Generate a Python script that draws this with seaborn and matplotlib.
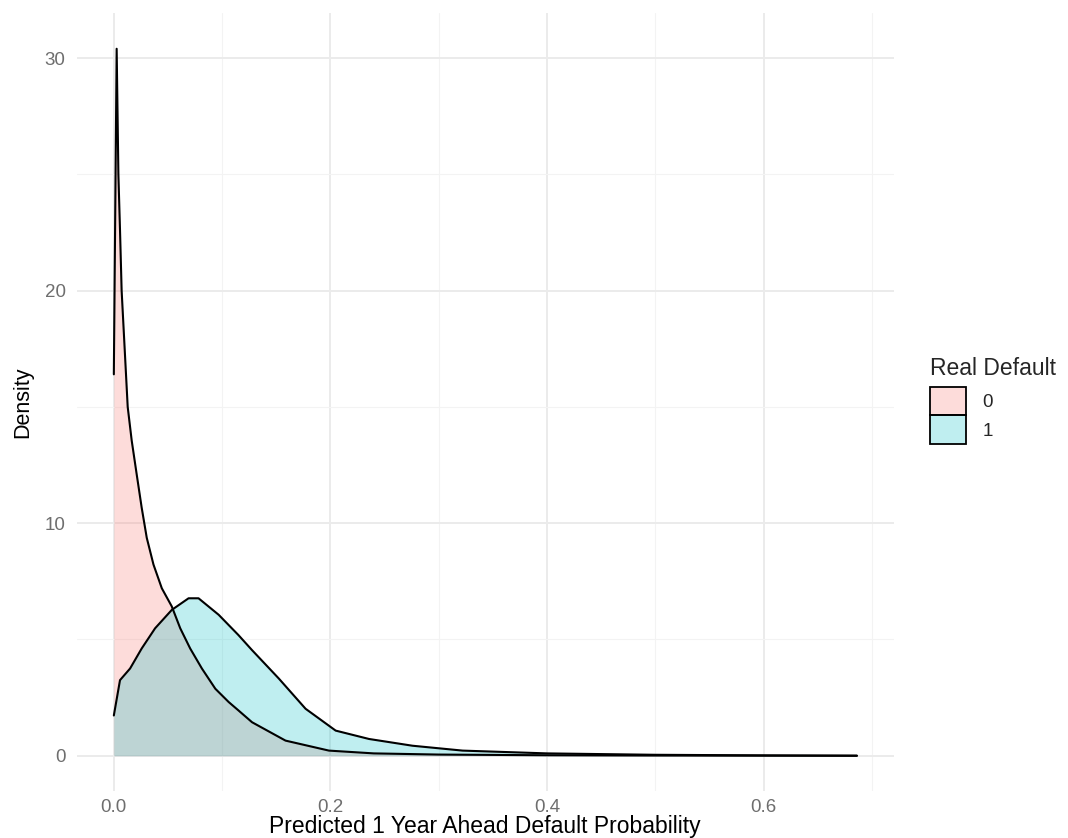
import matplotlib
matplotlib.use("Agg")
import matplotlib.pyplot as plt
from matplotlib.patches import Patch
from matplotlib.colors import to_rgba
import seaborn as sns
import pandas as pd

# ---- data ----
groups = ["0", "1"]
group_colors = ["#F8766D", "#00BFC4"]

x_default0 = [0.0, 0.0026, 0.0042, 0.0057, 0.0072, 0.0128, 0.0165, 0.0211, 0.0257,
              0.0304, 0.0366, 0.0443, 0.0535, 0.0613, 0.0705, 0.0813, 0.0937, 0.106,
              0.115, 0.1276, 0.1585, 0.1986, 0.24, 0.30, 0.40, 0.50, 0.60, 0.686]
y_default0 = [16.4, 30.4, 25.0, 22.6, 20.0, 15.0, 13.55, 12.1, 10.67,
              9.37, 8.22, 7.2, 6.42, 5.48, 4.61, 3.75, 2.88, 2.31,
              1.95, 1.44, 0.65, 0.22, 0.10, 0.05, 0.02, 0.008, 0.003, 0.0]

x_default1 = [0.0, 0.0057, 0.015, 0.0257, 0.0381, 0.0535, 0.069, 0.0782, 0.0968,
              0.115, 0.1276, 0.1523, 0.177, 0.2048, 0.2356, 0.2757, 0.322, 0.40,
              0.50, 0.60, 0.686]
y_default1 = [1.73, 3.25, 3.75, 4.61, 5.48, 6.27, 6.77, 6.77, 6.06,
              5.19, 4.54, 3.32, 2.02, 1.08, 0.72, 0.43, 0.22, 0.10,
              0.04, 0.015, 0.0]

x_major = [0.0, 0.2, 0.4, 0.6]
x_minor = [0.1, 0.3, 0.5, 0.7]
x_labels = ["0.0", "0.2", "0.4", "0.6"]
y_major = [0, 10, 20, 30]
y_minor = [5, 15, 25]
y_labels = ["0", "10", "20", "30"]

x_title = "Predicted 1 Year Ahead Default Probability"
y_title = "Density"
legend_title = "Real Default"

curves = pd.concat([
    pd.DataFrame({"x": x_default0, "density": y_default0, "group": groups[0]}),
    pd.DataFrame({"x": x_default1, "density": y_default1, "group": groups[1]}),
])

# ---- styling ----
sns.set_theme(style="white")
plt.rcParams["font.family"] = ["Liberation Sans", "DejaVu Sans"]

fig = plt.figure(figsize=(10.68, 8.38), dpi=100)
ax = fig.add_axes([0.0718, 0.056, 0.765, 0.928])

for g, col in zip(groups, group_colors):
    d = curves[curves["group"] == g]
    ax.fill_between(d["x"], 0, d["density"], color=to_rgba(col, 0.25), lw=0, zorder=2)
for g in groups:
    d = curves[curves["group"] == g]
    sns.lineplot(data=d, x="x", y="density", color="black", lw=1.5, ax=ax,
                 sort=False, estimator=None, zorder=3)

ax.set_xlim(-0.0343, 0.72)
ax.set_ylim(-1.52, 31.92)
ax.set_xticks(x_major)
ax.set_xticklabels(x_labels)
ax.set_xticks(x_minor, minor=True)
ax.set_yticks(y_major)
ax.set_yticklabels(y_labels)
ax.set_yticks(y_minor, minor=True)
ax.set_axisbelow(True)
ax.grid(which="major", color="#EBEBEB", lw=1.4)
ax.grid(which="minor", color="#F3F3F3", lw=0.8)
for s in ax.spines.values():
    s.set_visible(False)
ax.tick_params(axis="both", which="both", length=0, labelsize=13.5, labelcolor="#6e6e6e")
ax.tick_params(axis="x", pad=6)
ax.tick_params(axis="y", pad=8)
ax.set_xlabel(x_title, fontsize=16.5, color="black", labelpad=-1)
ax.set_ylabel(y_title, fontsize=15.5, color="black", labelpad=8)

handles = [Patch(facecolor=to_rgba(c, 0.25), edgecolor="black", lw=1.3) for c in group_colors]
leg = fig.legend(handles, groups, title=legend_title, loc="upper left",
                 bbox_to_anchor=(0.871, 0.574), frameon=False, fontsize=13.5,
                 title_fontsize=16.5, handlelength=1.9, handleheight=1.96,
                 labelspacing=0.0, handletextpad=0.9, borderpad=0, borderaxespad=0,
                 alignment="left")
leg._legend_box.sep = 5

fig.savefig("out.png", dpi=100)
